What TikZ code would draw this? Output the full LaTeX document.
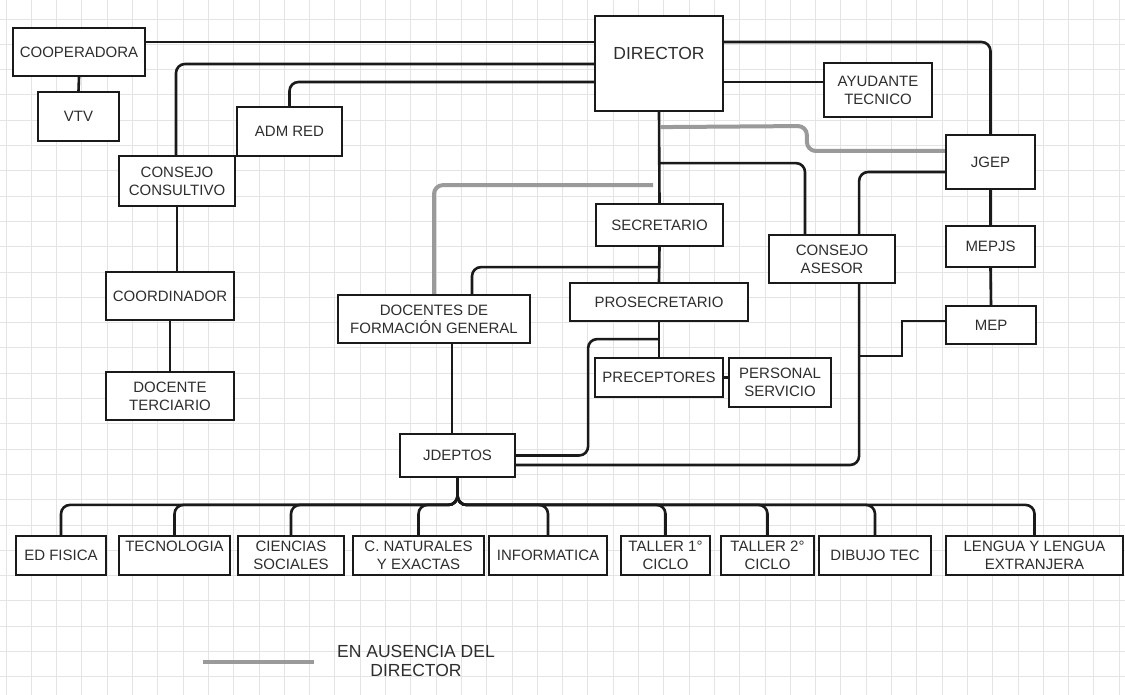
\documentclass[tikz,border=0pt]{standalone}
\usepackage{fontspec}
\setmainfont{Liberation Sans}
\usepackage{tikz}
\definecolor{Ink}{HTML}{1A1A1A}
\definecolor{Txt}{HTML}{2E2E2E}
\definecolor{greyline}{HTML}{9A9A9A}
\definecolor{gridline}{HTML}{E4E4E4}
\pgfdeclarelayer{back}
\pgfsetlayers{back,main}
\tikzstyle{Box}=[rectangle, draw=Ink, fill=white, line width=2.2pt, inner sep=0pt, align=center, text=Txt, font=\fontsize{15}{18}\selectfont]
\tikzstyle{Link}=[draw=Ink, line width=2.6pt, rounded corners=9pt]
\tikzstyle{Thin}=[draw=Ink, line width=1.5pt]
\tikzstyle{Ausencia}=[draw=greyline, line width=4pt, rounded corners=9pt]
\tikzstyle{Grid}=[draw=gridline, line width=0.9pt]

\begin{document}
\begin{tikzpicture}[x=1pt, y=-1pt]
    \useasboundingbox (0,0) rectangle (1125,695);
    \path
    (79,52) node[Box, minimum width=132, minimum height=48] (coop) {COOPERADORA}
    (78.5,116.5) node[Box, minimum width=81, minimum height=49] (vtv) {VTV}
    (289.5,131.5) node[Box, minimum width=105, minimum height=49] (admred) {ADM RED}
    (177,181) node[Box, minimum width=116, minimum height=50] (consul) {CONSEJO\\CONSULTIVO}
    (170,296) node[Box, minimum width=128, minimum height=48] (coord) {COORDINADOR}
    (170,396) node[Box, minimum width=128, minimum height=48] (terc) {DOCENTE\\TERCIARIO}
    (659,63.5) node[Box, minimum width=128, minimum height=95, font=\fontsize{17.5}{21}\selectfont, text height=12.6pt, text depth=21pt] (director) {DIRECTOR}
    (878,90) node[Box, minimum width=108, minimum height=54] (ayud) {AYUDANTE\\TECNICO}
    (990.5,162) node[Box, minimum width=89, minimum height=54] (jgep) {JGEP}
    (990.5,246.5) node[Box, minimum width=89, minimum height=41] (mepjs) {MEPJS}
    (991,325) node[Box, minimum width=90, minimum height=38] (mep) {MEP};

    \path
    (659.5,225) node[Box, minimum width=127, minimum height=42] (secre) {SECRETARIO}
    (832,259) node[Box, minimum width=126, minimum height=48] (asesor) {CONSEJO\\ASESOR}
    (659,302) node[Box, minimum width=178, minimum height=38] (prosec) {PROSECRETARIO}
    (434,319) node[Box, minimum width=192, minimum height=48] (docentes) {DOCENTES DE\\FORMACIÓN GENERAL}
    (659,377.5) node[Box, minimum width=128, minimum height=39] (precep) {PRECEPTORES}
    (780,382.5) node[Box, minimum width=102, minimum height=49] (personal) {PERSONAL\\SERVICIO}
    (457.5,455.5) node[Box, minimum width=115, minimum height=43] (jdeptos) {JDEPTOS};

    \path
    (61,555.5) node[Box, minimum width=90, minimum height=39] (edfis) {ED FISICA}
    (174.5,555.5) node[Box, minimum width=111, minimum height=39, text height=10.7pt, text depth=18pt] (tecno) {TECNOLOGIA}
    (291,555.5) node[Box, minimum width=106, minimum height=39] (cienc) {CIENCIAS\\SOCIALES}
    (418.5,555.5) node[Box, minimum width=131, minimum height=39] (cnat) {C. NATURALES\\Y EXACTAS}
    (548,555.5) node[Box, minimum width=118, minimum height=39] (info) {INFORMATICA}
    (665.5,555.5) node[Box, minimum width=89, minimum height=39] (tall1) {TALLER 1°\\CICLO}
    (767.5,555.5) node[Box, minimum width=93, minimum height=39] (tall2) {TALLER 2°\\CICLO}
    (875,555.5) node[Box, minimum width=112, minimum height=39] (dibujo) {DIBUJO TEC}
    (1034.5,555.5) node[Box, minimum width=177, minimum height=39] (lengua) {LENGUA Y LENGUA\\EXTRANJERA};

    \path (416,661) node[align=center, text=Txt, font=\fontsize{17.5}{19}\selectfont] (legtext) {EN AUSENCIA DEL\\DIRECTOR};
    \coordinate (legend) at (203,662);
    \coordinate (mepjoin) at (858,356);

    \begin{pgfonlayer}{back}
    \fill[white] (0,0) rectangle (1125,695);
    \foreach \i in {0,...,44} \draw[Grid] (6+25.3*\i,0) -- (6+25.3*\i,695);
    \foreach \j in {0,...,26} \draw[Grid] (0,19+25.3*\j) -- (1125,19+25.3*\j);

    \draw[Link] ([yshift=10pt]coop.east) -- ([yshift=21.5pt]director.west);
    \draw[Link] ([yshift=-0.5pt]director.west) -| ([xshift=-1pt]consul.north);
    \draw[Link] ([yshift=-18.5pt]director.west) -| (admred.north);
    \draw[Link] ([yshift=21.5pt]director.east) -| (jgep.north);
    \draw[Link] ([yshift=-18.5pt]director.east) -- ([yshift=8pt]ayud.west);
    \draw[Link] (coop.south) -- (vtv.north);
    \draw[Link] (consul.south) -- (consul.south |- coord.north);
    \draw[Link] (coord.south) -- (terc.north);

    \draw[Link] (director.south) -- (secre.north);
    \draw[Link] (secre.south) -- (prosec.north);
    \draw[Link] (prosec.south) -- (precep.north);
    \draw[Link] (precep.east) -- (precep.east -| personal.west);
    \draw[Link] ([yshift=-51pt]director.south) -| ([xshift=-27pt]asesor.north);
    \draw[Link] ([xshift=38pt]docentes.north) |- ([yshift=-20pt]secre.south);
    \draw[Link] ([yshift=-17pt]prosec.south) -| ([xshift=72pt]jdeptos.east) -- (jdeptos.east);
    \draw[Link] ([yshift=-10pt]jgep.west) -| ([xshift=343pt, yshift=-9.5pt]jdeptos.east) -- ([yshift=-9.5pt]jdeptos.east);
    \draw[Link] (jgep.south) -- (mepjs.north);
    \draw[Link] (mepjs.south) -- (mep.north);
    \draw[Thin] ([yshift=4pt]mep.west) -| ++(-43,35) -- (mepjoin);
    \draw[Thin] ([xshift=18pt]docentes.south) -- ([xshift=-5.5pt]jdeptos.north);

    \draw[Ausencia] ([yshift=11pt]jgep.west) -- ++(-138,0) -- ++(0,-25) -- ([xshift=1pt, yshift=-15pt]director.south);
    \draw[Ausencia] ([xshift=-6pt, yshift=-73pt]director.south) -| (docentes.north);

    \foreach \b in {edfis, tecno, cienc, cnat, info, tall1, tall2, dibujo, lengua}
        \draw[Link] (jdeptos.south) |- ([yshift=30pt]\b.north) -- (\b.north);

    \draw[Ausencia] (legend) -- ++(111,0);
    \end{pgfonlayer}
\end{tikzpicture}
\end{document}
